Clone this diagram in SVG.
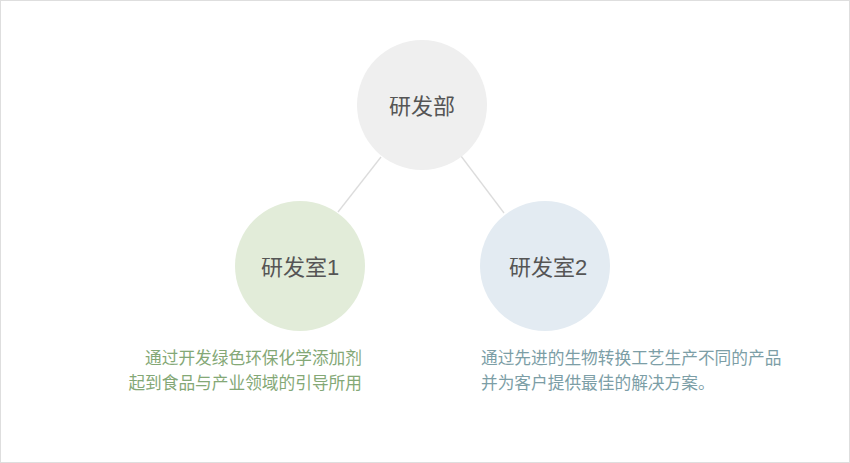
<svg xmlns="http://www.w3.org/2000/svg" width="850" height="463" viewBox="0 0 850 463">
<style>
.lbl{font-family:"Liberation Sans","Noto Sans CJK SC",sans-serif;font-size:22px;fill:#555;text-anchor:middle;dominant-baseline:central}
.desc{font-family:"Liberation Sans","Noto Sans CJK SC",sans-serif;font-size:16.7px}
.conn{stroke:#dcdcdc;stroke-width:1.3;fill:none}
</style>
<rect x="0.5" y="0.5" width="849" height="462" fill="#fff" stroke="#dedede"/>
<g id="connectors">
<line class="conn" x1="381" y1="157" x2="338" y2="212"/>
<line class="conn" x1="461" y1="156" x2="504" y2="213"/>
</g>
<g id="node-top">
<circle cx="422" cy="105" r="65" fill="#efefef"/>
<text class="lbl" x="422" y="106">研发部</text>
</g>
<g id="node-left">
<circle cx="300" cy="266" r="65" fill="#e2ecd9"/>
<text class="lbl" x="300" y="267">研发室1</text>
</g>
<g id="node-right">
<circle cx="545" cy="266" r="65" fill="#e3ebf2"/>
<text class="lbl" x="548" y="267">研发室2</text>
</g>
<g id="desc-left" class="desc" fill="#84a876" text-anchor="end">
<text x="362" y="364">通过开发绿色环保化学添加剂</text>
<text x="362" y="389">起到食品与产业领域的引导所用</text>
</g>
<g id="desc-right" class="desc" fill="#7c9ea6">
<text x="481" y="364">通过先进的生物转换工艺生产不同的产品</text>
<text x="481" y="389">并为客户提供最佳的解决方案。</text>
</g>
</svg>
